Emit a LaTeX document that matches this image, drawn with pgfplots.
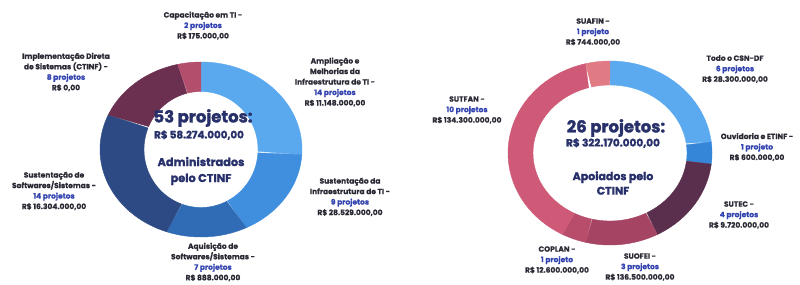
\documentclass[border=0pt]{standalone}
\usepackage{pgfplots}
\pgfplotsset{compat=1.18}
\usepackage{pgfplotstable}
\usepackage{fontspec}
\setmainfont{Poppins}
\newfontfamily\heavy{Poppins}[BoldFeatures={FakeBold=1.6}]
\newfontfamily\semi{Poppins}[BoldFeatures={FakeBold=0.6}]

\definecolor{LA}{HTML}{5AA9EF}
\definecolor{LB}{HTML}{3F8FDE}
\definecolor{LC}{HTML}{2F6CB5}
\definecolor{LD}{HTML}{2D4A85}
\definecolor{LE}{HTML}{6B2F4F}
\definecolor{LF}{HTML}{B34E6C}
\definecolor{RA}{HTML}{5BA9EF}
\definecolor{RB}{HTML}{3586D8}
\definecolor{RC}{HTML}{5A2F4E}
\definecolor{RD}{HTML}{A54463}
\definecolor{RE}{HTML}{B84D6B}
\definecolor{RF}{HTML}{CF5A78}
\definecolor{RG}{HTML}{E07A85}
\definecolor{navy}{HTML}{28306A}
\definecolor{cnt}{HTML}{3344B0}
\definecolor{lblc}{HTML}{2A2A35}

\pgfplotstableread{
n col
14 LA
9 LB
7 LC
14 LD
8 LE
2 LF
}\leftdata

\pgfplotstableread{
n col
6 RA
1 RB
4 RC
3 RD
1 RE
10 RF
1 RG
}\rightdata

% #1 table, #2 cx, #3 cy, #4 outer rx, #5 outer ry, #6 inner rx, #7 inner ry
\newcommand{\donut}[7]{%
  \pgfplotstablegetrowsof{#1}%
  \pgfmathtruncatemacro\nrows{\pgfplotsretval-1}%
  \def\total{0}%
  \pgfplotsforeachungrouped \i in {0,...,\nrows}{%
    \pgfplotstablegetelem{\i}{n}\of{#1}%
    \pgfmathsetmacro\total{\total+\pgfplotsretval}%
  }%
  \def\cum{0}%
  \pgfplotsforeachungrouped \i in {0,...,\nrows}{%
    \pgfplotstablegetelem{\i}{n}\of{#1}\let\val\pgfplotsretval
    \pgfplotstablegetelem{\i}{col}\of{#1}\let\colr\pgfplotsretval
    \pgfmathsetmacro\a{\cum/\total*360}%
    \pgfmathsetmacro\cum{\cum+\val}%
    \pgfmathsetmacro\b{\cum/\total*360}%
    \edef\temp{\noexpand\addplot[fill=\colr, draw=\colr, line width=0.4pt, domain=0:2, samples=121, variable=\noexpand\t]
      ({#2+ifthenelse(\noexpand\t<=1,#4,#6)*sin(ifthenelse(\noexpand\t<=1,\a+(\b-\a)*\noexpand\t,\b-(\b-\a)*(\noexpand\t-1)))},
       {#3-ifthenelse(\noexpand\t<=1,#5,#7)*cos(ifthenelse(\noexpand\t<=1,\a+(\b-\a)*\noexpand\t,\b-(\b-\a)*(\noexpand\t-1)))}) -- cycle;}%
    \temp
  }%
}

\begin{document}
\begin{tikzpicture}[
  lbl/.style={font=\fontsize{7.5}{10.5}\selectfont\semi\bfseries, align=center, text=lblc, inner sep=0pt},
  ctr/.style={text=navy, inner sep=0pt, align=center}]
\begin{axis}[width=800pt, height=284pt, scale only axis,
  xmin=0, xmax=800, ymin=0, ymax=284, y dir=reverse,
  hide axis, clip=false]
\donut{\leftdata}{201}{149.5}{101}{87.5}{57}{58}
\donut{\rightdata}{610}{153}{102}{92}{77}{68}

% left centre
\node[ctr, font=\fontsize{16.5}{20}\selectfont\heavy\bfseries] at (axis cs:203,118) {53 projetos:};
\node[ctr, font=\fontsize{10.3}{12}\selectfont\heavy\bfseries] at (axis cs:199,135) {R\$ 58.274.000,00};
\node[ctr, font=\fontsize{11.3}{16}\selectfont\heavy\bfseries] at (axis cs:201,171) {Administrados\\pelo CTINF};

% right centre
\node[ctr, font=\fontsize{16.5}{20}\selectfont\heavy\bfseries] at (axis cs:616,128) {26 projetos:};
\node[ctr, font=\fontsize{10.5}{12}\selectfont\heavy\bfseries] at (axis cs:613,143) {R\$ 322.170.000,00};
\node[ctr, font=\fontsize{11}{14.5}\selectfont\heavy\bfseries] at (axis cs:613,183) {Apoiados pelo\\CTINF};

% left labels
\node[lbl] at (axis cs:203,25.5) {Capacitação em TI -\\\textcolor{cnt}{2 projetos}\\R\$ 175.000,00};
\node[lbl] at (axis cs:66,72) {Implementação Direta\\de Sistemas (CTINF) -\\\textcolor{cnt}{8 projetos}\\R\$ 0,00};
\node[lbl] at (axis cs:335,82) {Ampliação e\\Melhorias da\\Infraestrutura de TI -\\\textcolor{cnt}{14 projetos}\\R\$ 11.148.000,00};
\node[lbl] at (axis cs:350,197) {Sustentação da\\Infraestrutura de TI -\\\textcolor{cnt}{9 projetos}\\R\$ 28.529.000,00};
\node[lbl] at (axis cs:213,262) {Aquisição de\\Softwares/Sistemas -\\\textcolor{cnt}{7 projetos}\\R\$ 888.000,00};
\node[lbl] at (axis cs:54,191) {Sustentação de\\Softwares/Sistemas -\\\textcolor{cnt}{14 projetos}\\R\$ 16.304.000,00};

% right labels
\node[lbl] at (axis cs:593,32) {SUAFIN -\\\textcolor{cnt}{1 projeto}\\R\$ 744.000,00};
\node[lbl] at (axis cs:735,69) {Todo o CSN-DF\\\textcolor{cnt}{6 projetos}\\R\$ 28.300.000,00};
\node[lbl] at (axis cs:757,147) {Ouvidoria e ETINF -\\\textcolor{cnt}{1 projeto}\\R\$ 600.000,00};
\node[lbl] at (axis cs:739,215) {SUTEC -\\\textcolor{cnt}{4 projetos}\\R\$ 9.720.000,00};
\node[lbl] at (axis cs:640,267) {SUOFEI -\\\textcolor{cnt}{3 projetos}\\R\$ 136.500.000,00};
\node[lbl] at (axis cs:557,260) {COPLAN -\\\textcolor{cnt}{1 projeto}\\R\$ 12.600.000,00};
\node[lbl] at (axis cs:467,110) {SUTFAN -\\\textcolor{cnt}{10 projetos}\\R\$ 134.300.000,00};
\end{axis}
\pgfresetboundingbox
\path (current axis.south west) rectangle (current axis.north east);
\end{tikzpicture}
\end{document}
